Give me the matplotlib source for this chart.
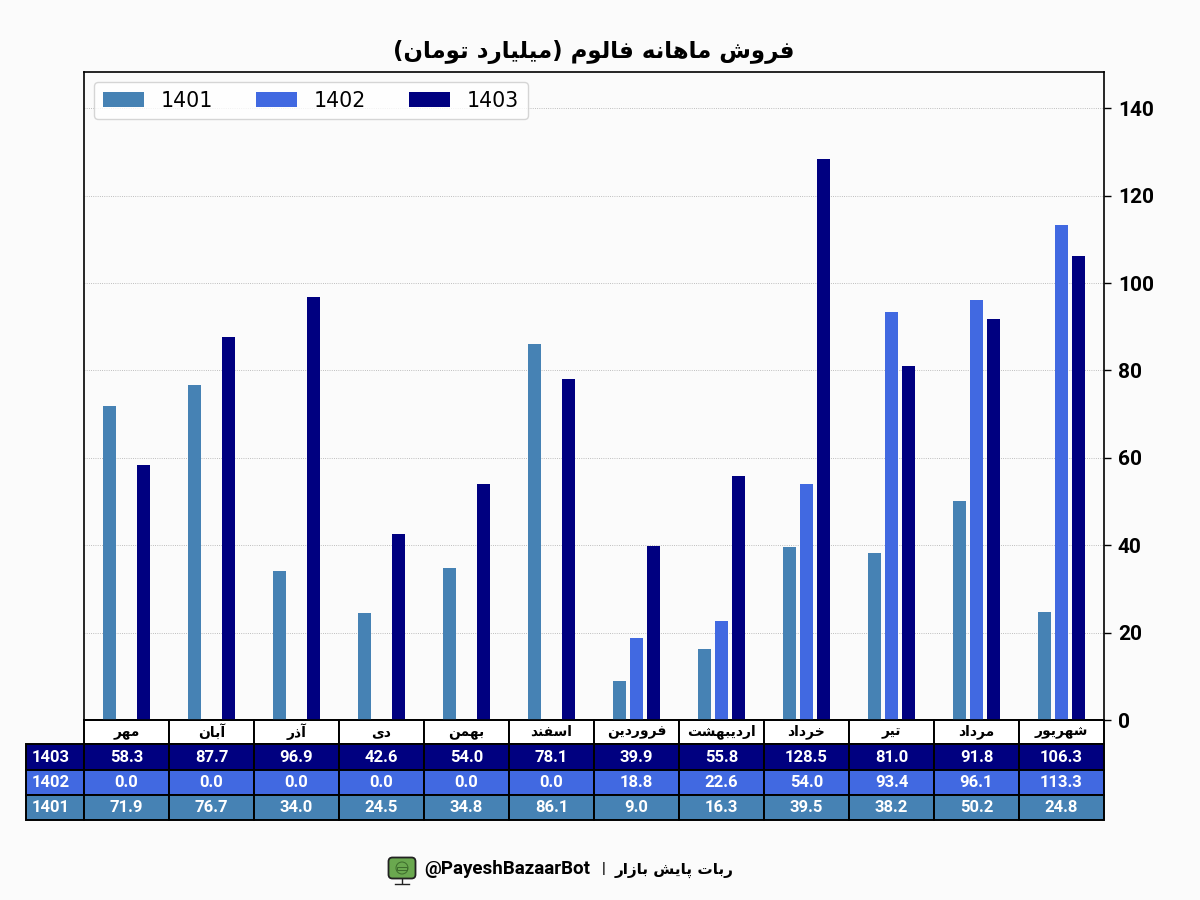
import matplotlib
matplotlib.use("Agg")
import matplotlib.pyplot as plt
from matplotlib.patches import FancyBboxPatch, Rectangle, Circle
from matplotlib.table import Table
import numpy as np

# matplotlib does not join arabic letters, so pick presentation forms by hand
# letter: (isolated, final, initial, medial)
forms = {
    'ا': ('\uFE8D', '\uFE8E'), 'آ': ('\uFE81', '\uFE82'),
    'د': ('\uFEA9', '\uFEAA'), 'ذ': ('\uFEAB', '\uFEAC'),
    'ر': ('\uFEAD', '\uFEAE'), 'ز': ('\uFEAF', '\uFEB0'),
    'و': ('\uFEED', '\uFEEE'),
    'ب': ('\uFE8F', '\uFE90', '\uFE91', '\uFE92'),
    'پ': ('\uFB56', '\uFB57', '\uFB58', '\uFB59'),
    'ت': ('\uFE95', '\uFE96', '\uFE97', '\uFE98'),
    'خ': ('\uFEA5', '\uFEA6', '\uFEA7', '\uFEA8'),
    'س': ('\uFEB1', '\uFEB2', '\uFEB3', '\uFEB4'),
    'ش': ('\uFEB5', '\uFEB6', '\uFEB7', '\uFEB8'),
    'ف': ('\uFED1', '\uFED2', '\uFED3', '\uFED4'),
    'ل': ('\uFEDD', '\uFEDE', '\uFEDF', '\uFEE0'),
    'م': ('\uFEE1', '\uFEE2', '\uFEE3', '\uFEE4'),
    'ن': ('\uFEE5', '\uFEE6', '\uFEE7', '\uFEE8'),
    'ه': ('\uFEE9', '\uFEEA', '\uFEEB', '\uFEEC'),
    'ی': ('\uFBFC', '\uFBFD', '\uFBFE', '\uFBFF'),
}
mirror = {'(': ')', ')': '('}


def fa(text):
    out = []
    for i, ch in enumerate(text):
        if ch not in forms:
            out.append(mirror.get(ch, ch))
            continue
        prev = text[i - 1] if i > 0 else ''
        nxt = text[i + 1] if i + 1 < len(text) else ''
        join_prev = prev in forms and len(forms[prev]) == 4
        join_next = nxt in forms and len(forms[ch]) == 4
        f = forms[ch]
        if join_prev and join_next:
            out.append(f[3])
        elif join_next:
            out.append(f[2])
        elif join_prev:
            out.append(f[1])
        else:
            out.append(f[0])
    return ''.join(reversed(out))


months = ['مهر', 'آبان', 'آذر', 'دی', 'بهمن', 'اسفند', 'فروردین', 'اردیبهشت',
          'خرداد', 'تیر', 'مرداد', 'شهریور']
y1401 = [71.9, 76.7, 34.0, 24.5, 34.8, 86.1, 9.0, 16.3, 39.5, 38.2, 50.2, 24.8]
y1402 = [0.0, 0.0, 0.0, 0.0, 0.0, 0.0, 18.8, 22.6, 54.0, 93.4, 96.1, 113.3]
y1403 = [58.3, 87.7, 96.9, 42.6, 54.0, 78.1, 39.9, 55.8, 128.5, 81.0, 91.8, 106.3]
years = ['1401', '1402', '1403']
colors = ['steelblue', 'royalblue', 'navy']
title = 'فروش ماهانه فالوم (میلیارد تومان)'
footer = 'ربات پایش بازار'
handle = '@PayeshBazaarBot'

bg = '#fbfbfb'
fig = plt.figure(figsize=(12, 9), dpi=100, facecolor=bg)
ax = fig.add_axes([84 / 1200, 1 - 720 / 900, 1020 / 1200, 648 / 900], facecolor=bg)

x = np.arange(len(months))
w = 0.16
ax.bar(x - 0.2, y1401, w, color=colors[0], label=years[0])
ax.bar(x, y1402, w, color=colors[1], label=years[1])
ax.bar(x + 0.2, y1403, w, color=colors[2], label=years[2])
ax.set_xlim(-0.5, 11.5)
ax.set_ylim(0, 148.3)
ax.set_xticks([])
ax.yaxis.tick_right()
ax.set_yticks(range(0, 141, 20))
ax.tick_params(axis='y', labelsize=15, length=5, width=1, pad=5)
for lab in ax.get_yticklabels():
    lab.set_fontfamily('Roboto')
    lab.set_fontweight('bold')
ax.grid(axis='y', color='#aaaaaa', linestyle=':', linewidth=0.6)
ax.set_axisbelow(True)
for s in ax.spines.values():
    s.set_linewidth(1.2)

ax.legend(loc='upper left', ncols=3, columnspacing=2.05, handletextpad=0.85,
          handlelength=2.0, borderaxespad=0.5, labelspacing=0.3,
          prop={'family': 'DejaVu Sans', 'size': 14.8})

# table under the axes, the bbox only counts the grid, the label column hangs off its left side
cell_rows = [y1403, y1402, y1401]
row_names = years[::-1]
row_colors = [colors[2], colors[1], colors[0]]
col_w = 85 / 1020
label_w = 58 / 1020
row_h = [24 / 648, 26 / 648, 25 / 648, 25 / 648]

table = Table(ax, bbox=[0, -100 / 648, 1, 100 / 648])
table.auto_set_font_size(False)
for c, m in enumerate(months):
    cell = table.add_cell(0, c, col_w, row_h[0], text=fa(m), loc='center', facecolor='white')
    cell.set_text_props(family='DejaVu Sans', fontweight='bold', fontsize=10, color='black')
for r, vals in enumerate(cell_rows):
    name_cell = table.add_cell(r + 1, -1, label_w, row_h[r + 1], text=row_names[r], loc='left',
                               facecolor=row_colors[r])
    name_cell.set_text_props(family='Roboto', fontweight='bold', fontsize=12, color='white')
    for c, v in enumerate(vals):
        cell = table.add_cell(r + 1, c, col_w, row_h[r + 1], text=f'{v:.1f}', loc='center',
                              facecolor=row_colors[r])
        cell.set_text_props(family='Roboto', fontweight='bold', fontsize=12, color='white')
for cell in table.get_celld().values():
    cell.set_linewidth(1.4)
    cell.set_edgecolor('black')
ax.add_table(table)

fig.text(594 / 1200, 1 - 52 / 900, fa(title), ha='center', va='center', fontsize=16.5,
         fontweight='bold', family='DejaVu Sans')

# footer text and the little monitor logo
fig.text(590 / 1200, 1 - 869 / 900, handle, ha='right', va='center', fontsize=13.5,
         fontweight='bold', family='Roboto')
fig.text(604 / 1200, 1 - 869 / 900, '|', ha='center', va='center', fontsize=11,
         fontweight='bold', family='Roboto')
fig.text(733 / 1200, 1 - 870 / 900, fa(footer), ha='right', va='center', fontsize=11,
         fontweight='bold', family='DejaVu Sans')

logo = fig.add_axes([384 / 1200, 1 - 886 / 900, 36 / 1200, 32 / 900])
logo.set_xlim(384, 420)
logo.set_ylim(886, 854)
logo.axis('off')
logo.add_patch(FancyBboxPatch((388.5, 857.5), 27, 21, boxstyle='round,pad=0,rounding_size=4',
                              facecolor='#6aa84f', edgecolor='#222222', linewidth=1.3))
logo.add_patch(Circle((402, 868), 6, facecolor='none', edgecolor='#3d6b2c', linewidth=0.7))
logo.add_patch(Rectangle((397, 866.5), 10, 3, facecolor='none', edgecolor='#3d6b2c', linewidth=0.7))
logo.plot([402, 402], [879, 883], color='#222222', linewidth=1)
logo.plot([395, 409], [883.5, 883.5], color='#222222', linewidth=1)

fig.savefig('out.png', facecolor=bg)
